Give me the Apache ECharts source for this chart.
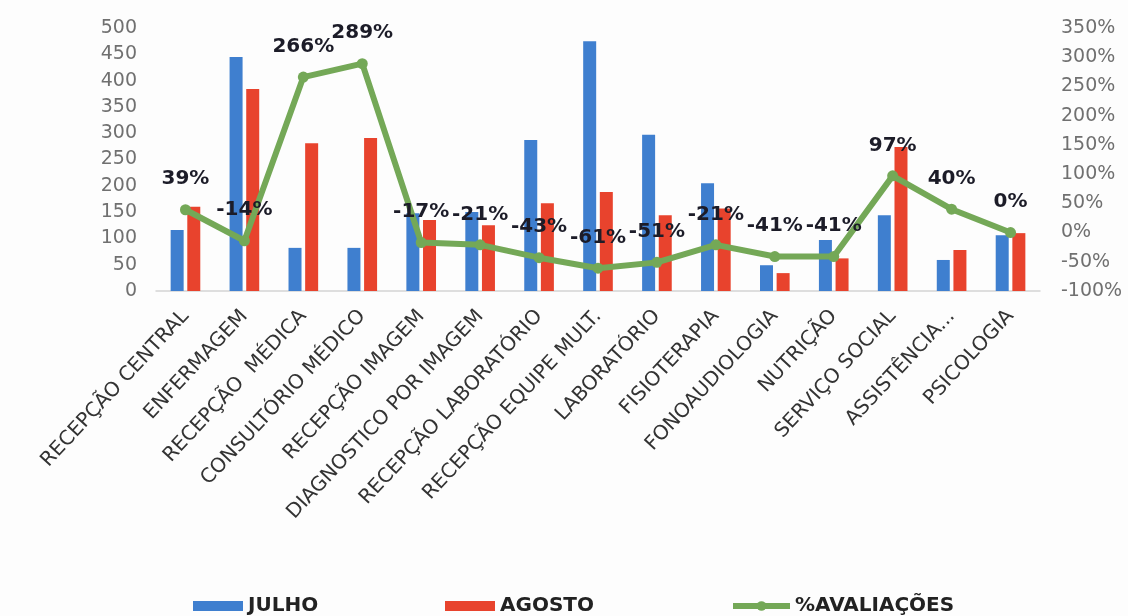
<!DOCTYPE html>
<html>
<head>
<meta charset="utf-8">
<script src="https://cdn.jsdelivr.net/npm/echarts@6/dist/echarts.min.js"></script>
<style>
html,body{margin:0;padding:0;background:#fdfdfd;}
#c{width:1128px;height:616px;}
</style>
</head>
<body>
<div id="c"></div>
<script>
const categories = ['RECEPÇÃO CENTRAL','ENFERMAGEM','RECEPÇÃO  MÉDICA','CONSULTÓRIO MÉDICO','RECEPÇÃO IMAGEM','DIAGNOSTICO POR IMAGEM','RECEPÇÃO LABORATÓRIO','RECEPÇÃO EQUIPE MULT.','LABORATÓRIO','FISIOTERAPIA','FONOAUDIOLOGIA','NUTRIÇÃO','SERVIÇO SOCIAL','ASSISTÊNCIA...','PSICOLOGIA'];
const julho  = [116, 445, 82, 82, 148, 150, 287, 475, 297, 205, 49, 97, 144, 59, 106];
const agosto = [160, 384, 281, 291, 135, 125, 167, 188, 144, 157, 34, 62, 274, 78, 110];
const avaliacoes = [39, -14, 266, 289, -17, -21, -43, -61, -51, -21, -41, -41, 97, 40, 0];
const leftTicks = {min: 0, max: 500, interval: 50};
const rightTicks = {min: -100, max: 350, interval: 50};

const BLUE = '#3f7fcf', RED = '#e8432d', GREEN = '#74a857';
const FONT = 'DejaVu Sans';
const legendText = {fontFamily: FONT, fontWeight: 'bold', fontSize: 20, color: '#222'};
const chart = echarts.init(document.getElementById('c'));
chart.setOption({
  backgroundColor: '#fdfdfd',
  animation: false,
  grid: {left: 156, right: 88, top: 28, bottom: 325},
  legend: [
    {left: 188, top: 591, itemWidth: 50, itemHeight: 10, icon: 'rect', data: ['JULHO'], textStyle: legendText},
    {left: 440, top: 591, itemWidth: 50, itemHeight: 10, icon: 'rect', data: ['AGOSTO'], textStyle: legendText},
    {left: 725, top: 591, itemWidth: 57, itemHeight: 12, data: ['%AVALIAÇÕES'], textStyle: legendText,
     lineStyle: {width: 6}}
  ],
  xAxis: {
    type: 'category', data: categories,
    axisLine: {lineStyle: {color: '#d4d4d4', width: 1.5}},
    axisTick: {show: false},
    axisLabel: {interval: 0, rotate: 47, margin: 22, fontFamily: FONT, fontSize: 20, color: '#333'}
  },
  yAxis: [
    {type: 'value', min: leftTicks.min, max: leftTicks.max, interval: leftTicks.interval,
     splitLine: {show: false}, axisLine: {show: false}, axisTick: {show: false},
     axisLabel: {margin: 19, fontFamily: FONT, fontSize: 19, color: '#707070'}},
    {type: 'value', min: rightTicks.min, max: rightTicks.max, interval: rightTicks.interval,
     splitLine: {show: false}, axisLine: {show: false}, axisTick: {show: false},
     axisLabel: {margin: 21, formatter: '{value}%', fontFamily: FONT, fontSize: 19, color: '#707070'}}
  ],
  series: [
    {name: 'JULHO', type: 'bar', data: julho, itemStyle: {color: BLUE},
     barWidth: 13, barGap: '28%'},
    {name: 'AGOSTO', type: 'bar', data: agosto, itemStyle: {color: RED},
     barWidth: 13},
    {name: '%AVALIAÇÕES', type: 'line', yAxisIndex: 1, data: avaliacoes,
     lineStyle: {color: GREEN, width: 6}, itemStyle: {color: GREEN},
     symbol: 'circle', symbolSize: 11,
     label: {show: true, position: 'top', distance: 15, formatter: '{c}%',
             fontFamily: FONT, fontWeight: 'bold', fontSize: 20, color: '#1c1c28'}}
  ]
});
</script>
</body>
</html>
